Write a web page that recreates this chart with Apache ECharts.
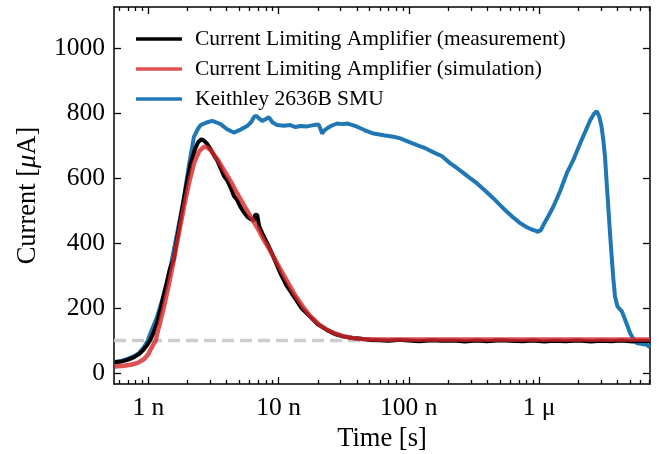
<!DOCTYPE html>
<html><head><meta charset="utf-8">
<script src="https://cdn.jsdelivr.net/npm/echarts@6/dist/echarts.min.js"></script>
<style>html,body{margin:0;padding:0;background:#fff}#c{width:662px;height:454px}</style>
</head><body><div id="c"></div>
<script>
// ---- data (time in ns, current in µA) ----
const measT = [0.55,0.62,0.70,0.78,0.85,0.92,0.98,1.03,1.09,1.16,1.23,1.30,1.38,1.46,1.57,1.68,1.82,1.96,2.11,2.28,2.42,2.55,2.68,2.83,3.0,3.2,3.38,3.6,3.8,4.03,4.3,4.55,4.81,5.1,5.4,5.74,6.1,6.46,6.6,6.85,7.1,7.49,8.0,8.67,9.4,10.3,11.5,13.1,15,17.6,20,23.6,27,31.6,37,42,50,60,70,85,100,120,150,180,220,270,330,400,500,600,750,900,1100,1300,1600,2000,2500,3000,3600,4300,5200,6200,7110];
const measI = [33,35,41,49,58,72,86,100,122,152,190,232,275,318,352,425,505,580,645,690,712,720,716,706,690,670,655,630,608,594,570,545,533,512,496,482,474,470,488,487,452,431,408,379,345,308,270,236,200,172,150,132,120,112,108,106,102,101,99,102,100,98,101,99,100,97,100,98,101,99,98,100,97,99,98,100,97,99,98,100,97,99,98];

const simT = [0.55,0.65,0.75,0.83,0.93,1.0,1.04,1.1,1.14,1.17,1.24,1.32,1.45,1.57,1.72,1.88,2.05,2.24,2.45,2.67,2.85,3.0,3.4,3.8,4.3,4.8,5.4,6.1,6.9,7.7,8.7,9.75,11.3,13.1,15.2,17.6,20.4,23.6,27.5,31.6,37,42,60,100,300,1000,3000,7110];
const simI = [20,22,26,31,43,58,72,90,100,122,160,205,280,349,432,513,585,646,683,697,695,687,658,626,590,554,518,482,446,410,374,338,292,246,207,174,150,133,121,113,108,105,103,103,103,103,103,103];

const smuT = [0.55,0.62,0.70,0.78,0.85,0.92,0.99,1.04,1.17,1.28,1.45,1.57,1.72,1.88,2.05,2.24,2.4,2.52,2.8,3.1,3.35,3.59,4.0,4.53,5.1,5.74,6.2,6.5,6.77,7.1,7.5,8.0,8.41,9.0,9.75,11,12.3,13.5,14.7,16.5,18.6,20.3,21.0,21.6,22.5,23.6,25.5,28.1,31,33.6,37,40.1,46,53.7,64,76.4,86,100,115.6,135,155,180,208,230,256,290,333,390,447,500,566,640,716,800,870,933,980,1030,1080,1180,1290,1450,1630,1850,2070,2270,2470,2650,2770,2900,3020,3120,3210,3300,3400,3500,3610,3720,3830,4000,4320,4650,5000,5300,5620,6200,6710,7110];
const smuI = [34,37,44,52,62,78,100,123,174,226,310,379,460,543,640,728,752,764,772,777,772,767,752,741,750,761,775,790,792,784,777,783,788,772,764,762,764,758,761,760,764,766,752,738,748,754,762,769,767,769,764,759,748,738,733,728,723,712,702,692,680,668,646,634,620,603,585,560,538,518,497,478,462,450,443,439,435,440,456,484,513,560,615,660,708,745,779,800,807,790,759,715,666,590,513,435,359,290,236,205,190,157,123,105,92,89,87,80];

const seriesNames = ['Current Limiting Amplifier (measurement)','Current Limiting Amplifier (simulation)','Keithley 2636B SMU'];
const majorTickNs = [1,10,100,1000];
const majorTickLabels = ['1 n','10 n','100 n','1 μ'];
const minorTickNs = [0.6,0.7,0.8,0.9,2,3,4,5,6,7,8,9,20,30,40,50,60,70,80,90,200,300,400,500,600,700,800,900,2000,3000,4000,5000,6000,7000];
const yTicks = [0,200,400,600,800,1000];
const thresholdI = 100;
const xRangeNs = [0.545, 7110];
const yRange = [-34, 1128];

// ---- build ----
const lg = ns => Math.log10(ns * 1e-9);
const pts = (t, v) => t.map((x, i) => [lg(x), v[i]]);
const FONT = 'Liberation Serif';
const xMin = lg(xRangeNs[0]), xMax = lg(xRangeNs[1]);

function xAxis(pos, ticks, len, label, line) {
  return {
    type: 'value', position: pos, min: xMin, max: xMax, gridIndex: 0,
    axisLine: { show: line, onZero: false, lineStyle: { color: '#000', width: 1.5 } },
    axisTick: { show: true, inside: true, length: len, customValues: ticks.map(lg), lineStyle: { color: '#000', width: 1.3 } },
    axisLabel: label ? {
      show: true, customValues: majorTickNs.map(lg), margin: 11,
      fontFamily: FONT, fontSize: 25.5, color: '#000',
      formatter: v => { const i = majorTickNs.findIndex(n => Math.abs(lg(n) - v) < 1e-6); return i >= 0 ? majorTickLabels[i] : ''; }
    } : { show: false },
    splitLine: { show: false },
    name: label ? 'Time [s]' : '', nameLocation: 'middle', nameGap: 42,
    nameTextStyle: { fontFamily: FONT, fontSize: 26.5, color: '#000' }
  };
}
function yAxis(pos, label) {
  return {
    type: 'value', position: pos, min: yRange[0], max: yRange[1],
    axisLine: { show: true, onZero: false, lineStyle: { color: '#000', width: 1.5 } },
    axisTick: { show: true, inside: true, length: 7, customValues: yTicks, lineStyle: { color: '#000', width: 1.3 } },
    axisLabel: label ? { show: true, customValues: yTicks, margin: 9, fontFamily: FONT, fontSize: 25.5, color: '#000',
      formatter: v => String(v) } : { show: false },
    splitLine: { show: false },
    name: label ? 'Current [{it|μ}A]' : '', nameLocation: 'middle', nameGap: 72,
    nameTextStyle: { fontFamily: FONT, fontSize: 26.5, color: '#000', rich: { it: { fontFamily: FONT, fontSize: 26.5, fontStyle: 'italic', color: '#000' } } }
  };
}

const option = {
  animation: false,
  backgroundColor: '#fff',
  grid: { left: 114, top: 7, right: 12, bottom: 70, containLabel: false, outerBoundsMode: 'none' },
  xAxis: [
    xAxis('bottom', majorTickNs, 7, true, true),
    xAxis('bottom', minorTickNs, 4, false, false),
    xAxis('top', majorTickNs, 7, false, true),
    xAxis('top', minorTickNs, 4, false, false)
  ],
  yAxis: [yAxis('left', true), yAxis('right', false)],
  legend: {
    data: seriesNames, orient: 'vertical', left: 131, top: 23,
    icon: 'rect', itemWidth: 46, itemHeight: 3.5, itemGap: 8,
    textStyle: { fontFamily: FONT, fontSize: 21.5, color: '#000', padding: [0, 0, 0, 8] }
  },
  series: [
    { type: 'line', name: 'threshold', data: [[xMin, thresholdI], [xMax, thresholdI]], symbol: 'none', z: 1,
      lineStyle: { color: '#cccccc', width: 3.3, type: [12, 6] }, silent: true },
    { type: 'line', name: seriesNames[2], data: pts(smuT, smuI), symbol: 'none', z: 2, color: '#1f77b4',
      lineStyle: { width: 4, color: '#1f77b4' } },
    { type: 'line', name: seriesNames[0], data: pts(measT, measI), symbol: 'none', z: 3, color: '#000',
      lineStyle: { width: 4, color: '#000' } },
    { type: 'line', name: seriesNames[1], data: pts(simT, simI), symbol: 'none', z: 4, color: 'rgba(214,39,40,0.8)',
      lineStyle: { width: 4.5, color: 'rgba(214,39,40,0.8)' } }
  ]
};
echarts.init(document.getElementById('c'), null, { renderer: 'canvas' }).setOption(option);
</script></body></html>
